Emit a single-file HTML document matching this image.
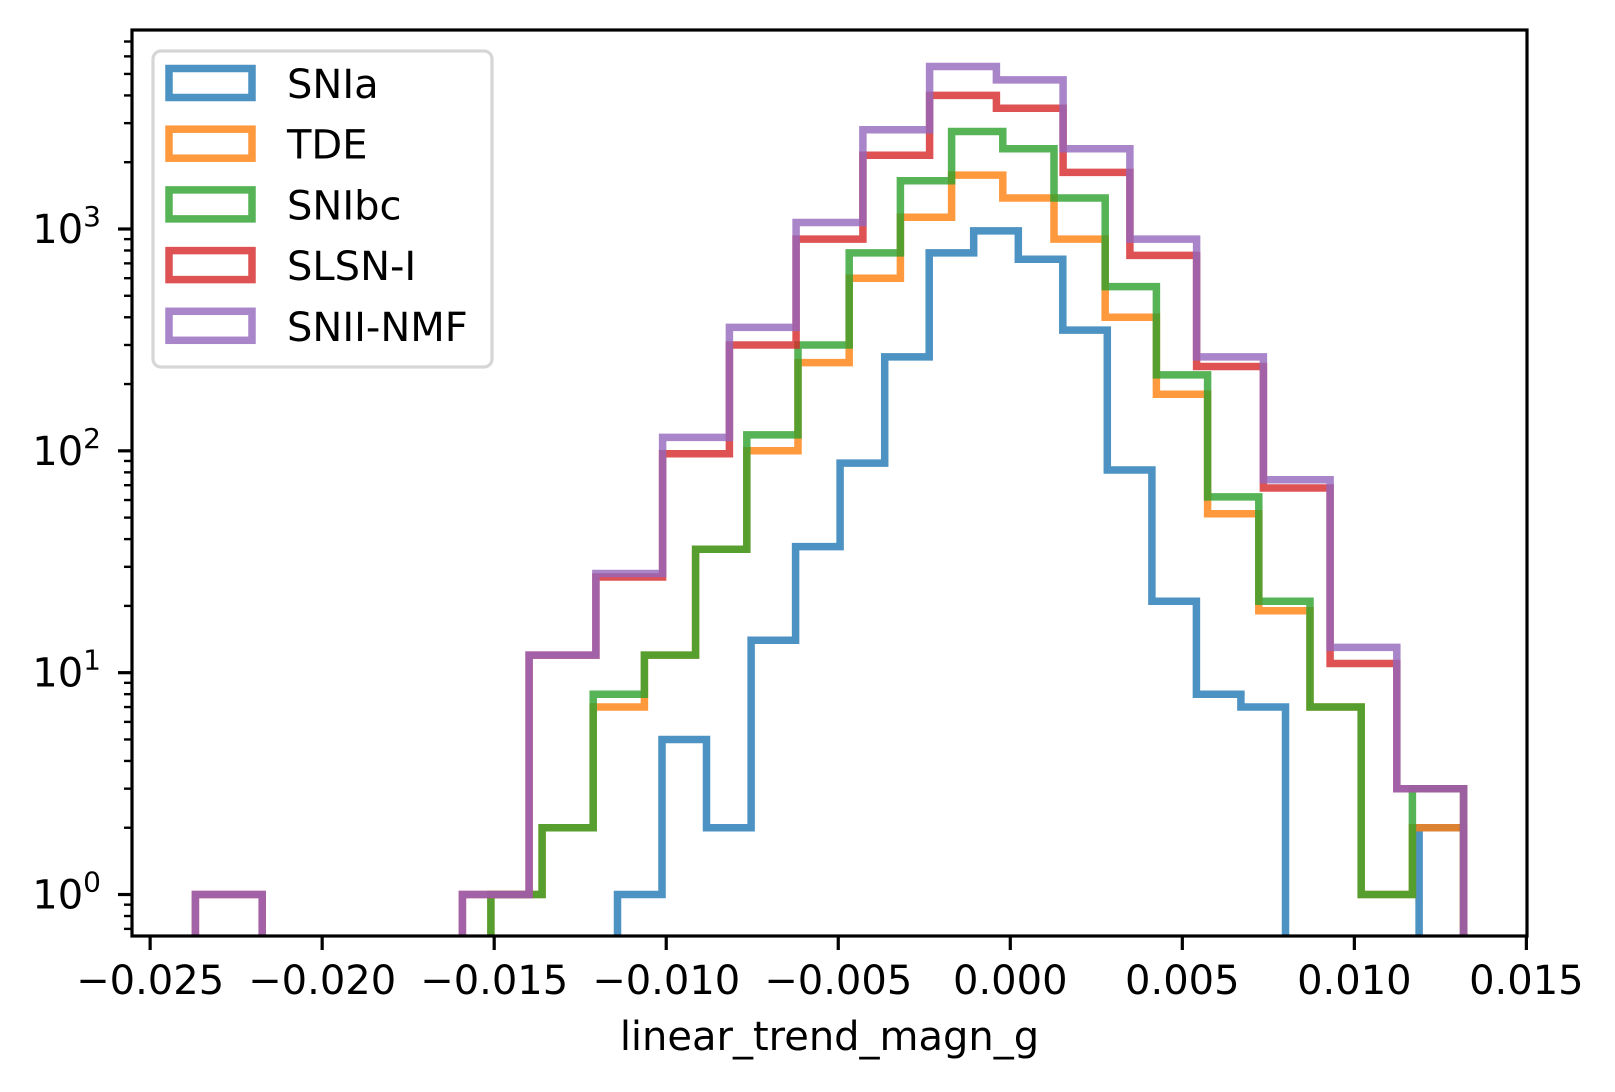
<!DOCTYPE html>
<html><head><meta charset="utf-8"><style>
html,body{margin:0;padding:0;background:#fff;}
svg{display:block;}
text{font-family:"DejaVu Sans","Liberation Sans",sans-serif;fill:#000;}
</style></head><body>
<svg id="chart" width="1615" height="1092" viewBox="0 0 1615 1092" xmlns="http://www.w3.org/2000/svg">
<defs><clipPath id="plotclip"><rect x="132" y="30" width="1395" height="906"/></clipPath></defs>
<rect x="0" y="0" width="1615" height="1092" fill="#fff"/>
<g id="series" clip-path="url(#plotclip)"></g>
<g id="axes"></g>
<g id="legend"></g>
</svg>
<script>
const seriesNames = ["SNIa","TDE","SNIbc","SLSN-I","SNII-NMF"];
const seriesColors = ["#1f77b4","#ff7f0e","#2ca02c","#d62728","#9467bd"];
const binStarts = [-0.011417, -0.015097, -0.015097, -0.023684, -0.023684];
const binEnd = 0.013175;
const countsSNIa = [1,5,2,14,37,88,265,780,980,730,350,82,21,8,7,0,0,0,2];
const countsTDE = [1,2,7,12,36,100,250,600,1130,1750,1380,900,400,180,52,19,7,1,2];
const countsSNIbc = [1,2,8,12,36,118,300,780,1650,2750,2300,1380,550,220,62,21,7,1,3];
const countsSLSN = [1,0,0,0,1,12,27,97,300,900,2150,4000,3500,1800,760,240,68,11,3];
const countsSNII = [1,0,0,0,1,12,28,115,360,1070,2800,5400,4700,2300,900,265,74,13,3];
const allCounts = [countsSNIa, countsTDE, countsSNIbc, countsSLSN, countsSNII];
const xTicks = [-0.025,-0.020,-0.015,-0.010,-0.005,0.000,0.005,0.010,0.015];
const xTickLabels = ["\u22120.025","\u22120.020","\u22120.015","\u22120.010","\u22120.005","0.000","0.005","0.010","0.015"];
const yMajor = [0,1,2,3];

const L=132,R=1527,T=30,B=936;
const XMIN=-0.025527, XMAX=0.015018;
const LOGMIN=-0.187, LOGMAX=3.897;
const NS="http://www.w3.org/2000/svg";
function xs(v){return L+(v-XMIN)/(XMAX-XMIN)*(R-L);}
function ys(v){ if(v<=0) return B+50; return B-(Math.log10(v)-LOGMIN)/(LOGMAX-LOGMIN)*(B-T);}
function mk(tag,attrs,parent){const e=document.createElementNS(NS,tag);for(const k in attrs)e.setAttribute(k,attrs[k]);parent.appendChild(e);return e;}

const sg=document.getElementById('series');
allCounts.forEach((c,i)=>{
  const n=c.length, w=(binEnd-binStarts[i])/n;
  let d="M"+xs(binStarts[i]).toFixed(1)+","+(B+50);
  for(let k=0;k<n;k++){
    const x0=xs(binStarts[i]+k*w), x1=xs(binStarts[i]+(k+1)*w), y=ys(c[k]);
    d+=" L"+x0.toFixed(1)+","+y.toFixed(1)+" L"+x1.toFixed(1)+","+y.toFixed(1);
  }
  d+=" L"+xs(binEnd).toFixed(1)+","+(B+50);
  const p=mk('path',{d:d,fill:'none',stroke:seriesColors[i],'stroke-opacity':0.8,'stroke-width':7.5,'stroke-linejoin':'miter'},sg);
  
  
});

const ag=document.getElementById('axes');
const frame=mk('rect',{x:L,y:T,width:R-L,height:B-T,fill:'none',stroke:'#000','stroke-width':3.2},ag);


xTicks.forEach((v,i)=>{
  const x=xs(v);
  const t=mk('line',{x1:x,x2:x,y1:B,y2:B+14,stroke:'#000','stroke-width':3.2},ag);
  
  
  const lb=mk('text',{x:x,y:994,'font-size':40,'text-anchor':'middle'},ag);
  lb.textContent=xTickLabels[i];
  
  
});
for(let e=-1;e<=3;e++){
  for(let m=1;m<=9;m++){
    const lv=e+Math.log10(m);
    if(lv<LOGMIN||lv>LOGMAX) continue;
    const y=ys(Math.pow(10,lv));
    const major=(m===1);
    const t=mk('line',{x1:L,x2:L-(major?14:8),y1:y,y2:y,stroke:'#000','stroke-width':major?3.2:2.4},ag);
    
    
  }
}
yMajor.forEach(e=>{
  const y=ys(Math.pow(10,e));
  const lb=mk('text',{x:101,y:y+14,'font-size':40,'text-anchor':'end'},ag);
  lb.textContent="10";
  const sup=mk('tspan',{dy:-17,'font-size':28},lb);
  sup.textContent=String(e);
  
  
});
const xl=mk('text',{x:(L+R)/2,y:1050,'font-size':40,'text-anchor':'middle'},ag);
xl.textContent="linear_trend_magn_g";



const lg=document.getElementById('legend');
const box=mk('rect',{x:153,y:51,width:339,height:316,rx:8,fill:'#fff','fill-opacity':0.8,stroke:'#d6d6d6','stroke-width':3.2},lg);


seriesNames.forEach((nm,i)=>{
  const cy=83+i*60.7;
  const r=mk('rect',{x:169,y:cy-14.5,width:83,height:29,fill:'none',stroke:seriesColors[i],'stroke-opacity':0.8,'stroke-width':7.5},lg);
  
  
  const t=mk('text',{x:287,y:cy+15,'font-size':40},lg);
  t.textContent=nm;
  
  
});
</script>
</body></html>
